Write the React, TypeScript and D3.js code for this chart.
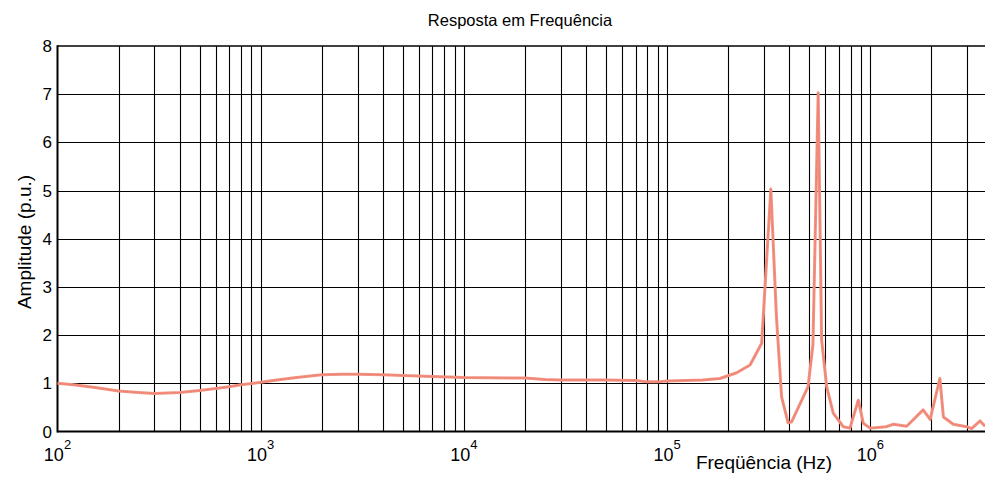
import React from "react";
import * as d3 from "d3";

const freq: number[] = [
  100, 120, 150, 200, 250, 300, 400, 500, 600, 700, 800, 1000, 1200, 1500,
  2000, 2500, 3000, 4000, 5000, 7000, 10000, 20000, 25000, 30000, 50000,
  70000, 80000, 90000, 100000, 150000, 182000, 220000, 256000, 292000, 324000,
  345000, 366000, 394000, 410000, 494000, 522000, 554000, 576000, 610000,
  657000, 736000, 794000, 873000, 924000, 998000, 1200000, 1300000, 1510000,
  1820000, 1970000, 2200000, 2290000, 2560000, 2980000, 3150000, 3470000,
  3670000,
];
const amp: number[] = [
  1.0, 0.97, 0.92, 0.84, 0.81, 0.79, 0.81, 0.85, 0.89, 0.93, 0.97, 1.02, 1.07,
  1.12, 1.18, 1.19, 1.19, 1.18, 1.16, 1.14, 1.12, 1.11, 1.08, 1.07, 1.07,
  1.06, 1.03, 1.03, 1.05, 1.07, 1.1, 1.22, 1.38, 1.83, 5.03, 2.4, 0.72, 0.18,
  0.2, 0.93, 1.8, 7.03, 1.9, 0.93, 0.38, 0.1, 0.07, 0.65, 0.17, 0.07, 0.1,
  0.15, 0.11, 0.45, 0.25, 1.1, 0.3, 0.15, 0.1, 0.06, 0.22, 0.11,
];
const yTicks: number[] = [0, 1, 2, 3, 4, 5, 6, 7, 8];
const decades: number[] = [2, 3, 4, 5, 6];
const title = "Resposta em Frequência";
const xLabel = "Freqüência (Hz)";
const yLabel = "Amplitude (p.u.)";

const W = 985;
const H = 480;
const left = 57.5;
const top = 46;
const bottom = 431.5;
const decadePx = 203.2;
const xMax = 4e6;
const FONT = "'Liberation Sans', Arial, Helvetica, sans-serif";

export default function App() {
  const x = d3
    .scaleLog()
    .domain([100, xMax])
    .range([left, left + Math.log10(xMax / 100) * decadePx]);
  const y = d3.scaleLinear().domain([0, 8]).range([bottom, top]);

  const gridX: number[] = [];
  for (let e = 2; e <= 6; e++) {
    for (let m = 1; m <= 9; m++) {
      const v = m * Math.pow(10, e);
      if (v > 100 && v <= xMax) gridX.push(v);
    }
  }

  const data = freq.map((f, i) => [f, amp[i]] as [number, number]);
  const line = d3
    .line<[number, number]>()
    .x((d) => x(d[0]))
    .y((d) => y(d[1]));
  const path = line(data) || "";

  return (
    <svg
      width={W}
      height={H}
      style={{ position: "absolute", left: 0, top: 0, background: "#fff" }}
      fontFamily={FONT}
    >
      <rect x={0} y={0} width={W} height={H} fill="#fff" />
      {gridX.map((v) => (
        <line
          key={"gx" + v}
          x1={Math.round(x(v)) + 0.5}
          x2={Math.round(x(v)) + 0.5}
          y1={top}
          y2={bottom}
          stroke="#000"
          strokeWidth={1.1}
        />
      ))}
      {yTicks.slice(1, -1).map((v) => (
        <line
          key={"gy" + v}
          x1={left}
          x2={W}
          y1={Math.round(y(v)) + 0.5}
          y2={Math.round(y(v)) + 0.5}
          stroke="#000"
          strokeWidth={1.1}
        />
      ))}
      <line x1={left} x2={W} y1={top} y2={top} stroke="#000" strokeWidth={1.5} />
      <line x1={left} x2={W} y1={bottom} y2={bottom} stroke="#000" strokeWidth={2.2} />
      <line x1={left} x2={left} y1={top - 0.75} y2={bottom + 1} stroke="#000" strokeWidth={2} />

      <path d={path} fill="none" stroke="#f29484" strokeWidth={3} strokeLinejoin="round" />
      <path
        d={path}
        fill="none"
        stroke="#e8553e"
        strokeOpacity={0.45}
        strokeWidth={1.2}
        strokeDasharray="1,1"
      />

      {yTicks.map((v) => (
        <text
          key={"yt" + v}
          x={52}
          y={y(v) + 6}
          textAnchor="end"
          fontSize={17}
          fill="#000"
        >
          {v}
        </text>
      ))}

      {decades.map((e) => (
        <text
          key={"xt" + e}
          x={x(Math.pow(10, e))}
          y={461}
          textAnchor="middle"
          fontSize={18}
          fill="#000"
        >
          10
          <tspan fontSize={13} dy={-12}>
            {e}
          </tspan>
        </text>
      ))}

      <text x={520} y={26} textAnchor="middle" fontSize={16.5} fill="#000">
        {title}
      </text>
      <text x={764} y={469} textAnchor="middle" fontSize={19} fill="#000">
        {xLabel}
      </text>
      <text
        transform={`translate(31,242) rotate(-90)`}
        textAnchor="middle"
        fontSize={19}
        fill="#000"
      >
        {yLabel}
      </text>
    </svg>
  );
}
